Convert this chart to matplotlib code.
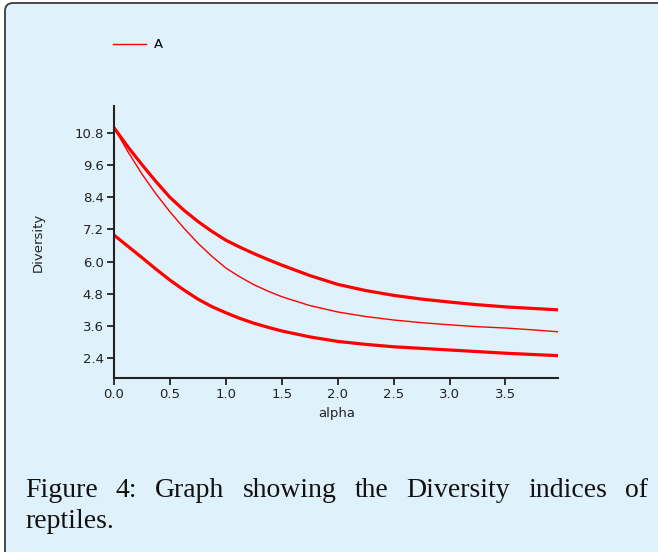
import matplotlib
matplotlib.use('Agg')
import matplotlib.pyplot as plt
from matplotlib.patches import FancyBboxPatch
from matplotlib.transforms import IdentityTransform

# Data
alpha = [0.0, 0.125, 0.25, 0.375, 0.5, 0.625, 0.75, 0.875, 1.0, 1.125, 1.25, 1.375, 1.5,
         1.75, 2.0, 2.25, 2.5, 2.75, 3.0, 3.25, 3.5, 3.75, 3.97]
div_upper = [11.0, 10.28, 9.62, 8.99, 8.4, 7.92, 7.5, 7.13, 6.8, 6.54, 6.3, 6.08, 5.87,
             5.48, 5.15, 4.92, 4.74, 4.6, 4.49, 4.39, 4.31, 4.25, 4.2]
div_mid = [11.0, 10.1, 9.27, 8.53, 7.86, 7.25, 6.69, 6.2, 5.76, 5.43, 5.14, 4.9, 4.69,
           4.36, 4.12, 3.95, 3.82, 3.72, 3.64, 3.57, 3.52, 3.45, 3.38]
div_lower = [6.99, 6.57, 6.15, 5.72, 5.31, 4.94, 4.6, 4.32, 4.09, 3.88, 3.7, 3.55, 3.41,
             3.19, 3.02, 2.91, 2.82, 2.76, 2.7, 2.64, 2.58, 2.53, 2.49]
yticks = [2.4, 3.6, 4.8, 6.0, 7.2, 8.4, 9.6, 10.8]
xticks = [0.0, 0.5, 1.0, 1.5, 2.0, 2.5, 3.0, 3.5]
caption_1 = "Figure 4: Graph showing the Diversity indices of"
caption_2 = "reptiles."

W, H = 658, 552
bg = '#dff1fb'
fig = plt.figure(figsize=(W / 100, H / 100), dpi=100)
fig.patch.set_facecolor('white')

# light blue panel with rounded top-left corner (drawn behind everything)
panel = FancyBboxPatch((5, -30), W + 30, H - 3 + 30,
                       boxstyle='round,pad=0,rounding_size=8',
                       transform=IdentityTransform(),
                       facecolor=bg, edgecolor='#3a3a3a', linewidth=1.3, zorder=-10)
fig.add_artist(panel)

ax = fig.add_axes([114 / W, 1 - 378 / H, 444 / W, (378 - 106) / H])
ax.set_facecolor('none')
ax.set_zorder(5)

ax.plot(alpha, div_upper, color='red', lw=2.3, solid_capstyle='butt', solid_joinstyle='round')
thin, = ax.plot(alpha, div_mid, color='red', lw=1.0, label='A', solid_joinstyle='round')
ax.plot(alpha, div_lower, color='red', lw=2.3, solid_capstyle='butt', solid_joinstyle='round')

ax.set_xlim(0, 3.97)
ax.set_ylim(1.654, 11.81)
ax.set_xticks(xticks)
ax.set_yticks(yticks)
ax.set_xticklabels(['%.1f' % t for t in xticks])
ax.set_yticklabels(['%.1f' % t for t in yticks])
for s in ['top', 'right']:
    ax.spines[s].set_visible(False)
for s in ['left', 'bottom']:
    ax.spines[s].set_linewidth(1.5)
    ax.spines[s].set_color('#222222')
ax.tick_params(direction='out', length=5, width=1.3, color='#222222',
               labelsize=9.5, labelcolor='#222222', pad=2.5)

fig.text(38 / W, 1 - 242 / H, 'Diversity', rotation=90, ha='center', va='center',
         fontsize=9.5, color='#222222')
fig.text(337 / W, 1 - 414 / H, 'alpha', ha='center', va='center',
         fontsize=9.5, color='#222222')

fig.legend(handles=[thin], loc='center left', bbox_to_anchor=(113 / W, 1 - 45 / H),
           bbox_transform=fig.transFigure, frameon=False, borderpad=0,
           borderaxespad=0, handlelength=2.5, handletextpad=0.6, fontsize=9.5)

# justified caption, first line spread between left and right margins
renderer = fig.canvas.get_renderer()
words = caption_1.split()
left, right = 25, 648
texts = [fig.text(0, 1 - 497 / H, w, fontsize=20, family='Liberation Serif',
                  color='#111111', va='baseline') for w in words]
widths = [t.get_window_extent(renderer).width for t in texts]
gap = (right - left - sum(widths)) / (len(words) - 1)
x = left
for t, w in zip(texts, widths):
    t.set_x(x / W)
    x += w + gap
fig.text(left / W, 1 - 528 / H, caption_2, fontsize=20, family='Liberation Serif',
         color='#111111', va='baseline')

fig.savefig('out.png', dpi=100, facecolor=fig.get_facecolor())
